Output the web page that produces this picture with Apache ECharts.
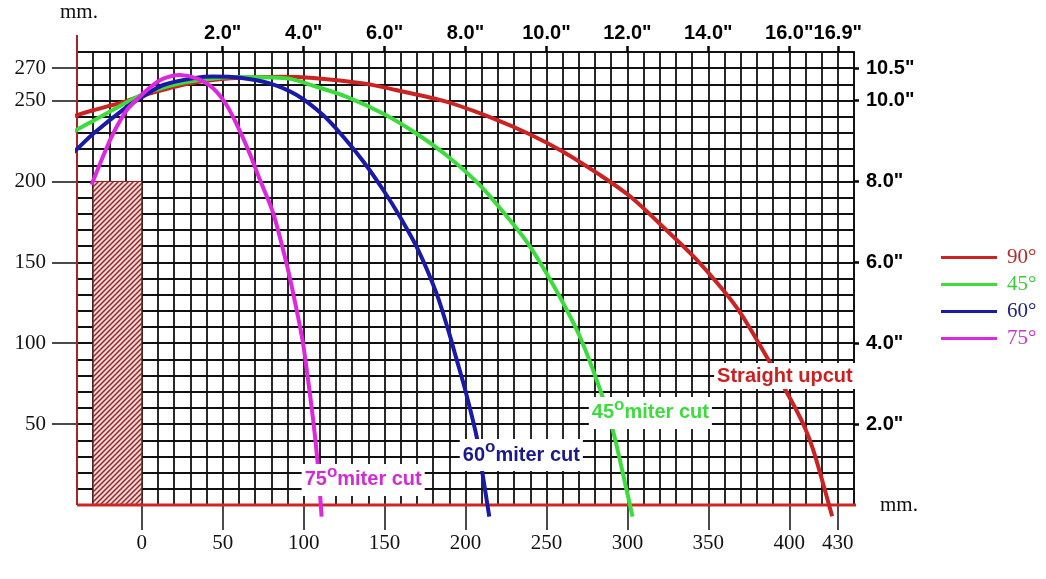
<!DOCTYPE html>
<html>
<head>
<meta charset="utf-8">
<script src="https://cdn.jsdelivr.net/npm/echarts@6/dist/echarts.min.js"></script>
<style>
html,body{margin:0;padding:0;background:#fff;}
#chart{width:1046px;height:579px;}
</style>
</head>
<body>
<div id="chart"></div>
<script>
// ---- data (mm) ----
const seriesNames = ['90°', '45°', '60°', '75°'];

const cut90 = [[-55,236],[-40,241],[-30,244],[-10,249.5],[0,253],[30,260.6],[55,263.7],[85,264.7],[106,264],[137,260.6],[157,256.5],[188,249.3],[217,239],[240,229],[260,218.5],[283,204],[302,190.5],[324,170],[341,153.5],[359,133],[370,118.5],[380,102],[389,86.5],[398,70.5],[405,57.5],[410,47],[414.5,35],[419,20],[426.5,-7]];

const cut45 = [[-50.5,226.6],[-40,232],[-30,237.5],[-10,248.5],[0,253.5],[15,258.5],[30,261.8],[58.6,264.5],[89.5,263.7],[108,258.5],[126.6,252.3],[149,242],[168,230.7],[188,216.3],[209,197.5],[229.5,173.5],[240,159.6],[250,143.2],[260.4,124.7],[270.7,104],[281,77.3],[290.2,49.4],[299.5,9.3],[303.2,-7.2]];

const cut60 = [[-49.5,211.2],[-40,220],[-30,229.5],[-10,245.5],[0,252],[13.3,259.6],[34,264.1],[44,264.8],[60.7,264.1],[79,260.6],[95.7,253.4],[112,241],[124.5,227.6],[137,212.2],[149.2,194.7],[159.5,178.2],[170.8,157.6],[182.1,130.8],[189.3,108.2],[194.5,90],[199.6,72],[206.9,42.2],[210,22.7],[214.7,-7.2]];

const cut75 = [[-31,198],[-24,215.3],[-17.6,229.7],[-9.3,244],[0,253.5],[5,258],[13.3,263.5],[23.6,265.8],[33.9,263.7],[44.2,257.5],[52.4,247.2],[60.7,231],[66.8,217],[73,201],[81,181],[89.4,149.4],[94,128.7],[99.3,102],[102.5,79.3],[105.9,52.5],[108.5,27.8],[110.2,6],[111.1,-7.2]];

// axis ticks
const mmTicksX = [0,50,100,150,200,250,300,350,400,430];
const inchTicksX = [50,100,150,200,250,300,350,400,430];
const inchLabelsX = ['2.0"','4.0"','6.0"','8.0"','10.0"','12.0"','14.0"','16.0"','16.9"'];
const mmTicksY = [50,100,150,200,250,270];
const inchLabelsY = ['2.0"','4.0"','6.0"','8.0"','10.0"','10.5"'];
const unitLabel = 'mm.';

// blocked zone (hatched), mm
const blockedX = [-30, 0];
const blockedY = [0, 200];

// curve annotations
const cutLabelDegrees = [null, '45', '60', '75'];
const cutLabelText = ['Straight upcut', 'miter cut', 'miter cut', 'miter cut'];
const cutLabelAt = [[397.3,79.7],[314.2,56.9],[234.5,30.9],[136.8,15.5]];

// ---- styles ----
const lineColors = ['#cc2222', '#3ddc3d', '#1a1aaa', '#dd28dd'];
const legendColors = ['#b82a2a', '#3ccc3c', '#22228c', '#cc33cc'];
const labelColors = ['#cc1f1f', '#3ddc3d', '#1a1a8c', '#d42ad4'];

function makeHatch() {
  const s = 5;
  const c = document.createElement('canvas');
  c.width = s; c.height = s;
  const g = c.getContext('2d');
  g.fillStyle = '#f7d9d9';
  g.fillRect(0, 0, s, s);
  g.strokeStyle = '#952626';
  g.lineWidth = 1.5;
  g.beginPath();
  g.moveTo(-1, s + 1); g.lineTo(s + 1, -1);
  g.moveTo(-1, 1); g.lineTo(1, -1);
  g.moveTo(s - 1, s + 1); g.lineTo(s + 1, s - 1);
  g.stroke();
  return c;
}

const inchMapX = {}; inchTicksX.forEach((v, i) => inchMapX[v] = inchLabelsX[i]);
const inchMapY = {}; mmTicksY.forEach((v, i) => inchMapY[v] = inchLabelsY[i]);

const serif = 'Liberation Serif';
const sans = 'Liberation Sans';

function cutLabel(i) {
  const col = labelColors[i];
  const rich = {
    n: { fontFamily: sans, fontWeight: 'bold', fontSize: 20, color: col, lineHeight: 32 },
    s: { fontFamily: sans, fontWeight: 'bold', fontSize: 17, color: col, lineHeight: 8, verticalAlign: 'top' }
  };
  const fmt = cutLabelDegrees[i] ? '{n|' + cutLabelDegrees[i] + '}{s|o}{n|' + cutLabelText[i] + '}' : '{n|' + cutLabelText[i] + '}';
  if (!cutLabelDegrees[i]) rich.n.lineHeight = 26;
  return {
    symbol: 'circle', symbolSize: 1,
    itemStyle: { color: 'rgba(0,0,0,0)' },
    silent: true,
    z: 10,
    label: {
      show: true, position: 'inside', formatter: fmt,
      backgroundColor: '#fff', padding: [0, 3, 0, 3], rich: rich
    },
    data: [{ coord: cutLabelAt[i] }]
  };
}

const curves = [cut90, cut45, cut60, cut75];

const series = [
  {
    name: 'bottomLine', type: 'line', data: [[-40, 0], [447, 0]],
    symbol: 'none', clip: false, silent: true, z: 3,
    lineStyle: { color: '#d02525', width: 3 },
    markArea: {
      silent: true, z: 1,
      itemStyle: { color: { image: makeHatch(), repeat: 'repeat' }, borderColor: '#8e2323', borderWidth: 1 },
      data: [[{ coord: [blockedX[0], blockedY[0]] }, { coord: [blockedX[1], blockedY[1]] }]]
    }
  },
  {
    name: 'leftLine', type: 'line', data: [[-40, 0], [-40, 290.5]],
    symbol: 'none', clip: false, silent: true, z: 3,
    lineStyle: { color: '#a82424', width: 2 }
  }
];
curves.forEach((d, i) => {
  series.push({
    name: seriesNames[i], type: 'line', data: d,
    symbol: 'none', smooth: 0.3, clip: false, z: 4,
    lineStyle: { color: lineColors[i], width: 4 },
    itemStyle: { color: lineColors[i] },
    markPoint: cutLabel(i)
  });
});

const gridLine = { show: true, lineStyle: { color: '#111', width: 1.8 } };
const hidden = { show: false };

const chart = echarts.init(document.getElementById('chart'), null, { renderer: 'canvas' });
chart.setOption({
  animation: false,
  backgroundColor: '#fff',
  grid: { left: 77, right: 192, top: 52, bottom: 74 },
  legend: {
    orient: 'vertical', left: 936, top: 242,
    itemWidth: 56, itemHeight: 3, itemGap: 6, icon: 'rect',
    data: seriesNames.map((n, i) => ({ name: n, textStyle: { color: legendColors[i] } })),
    textStyle: { fontFamily: serif, fontSize: 21, padding: [0, 0, 0, 5] }
  },
  graphic: [
    { type: 'text', left: 60, top: 2, style: { text: unitLabel, font: '21px "Liberation Serif"', fill: '#111' } }
  ],
  xAxis: [
    {
      type: 'value', position: 'bottom', min: -40, max: 440, interval: 10,
      axisLine: { show: false, onZero: false },
      axisTick: { show: true, customValues: mmTicksX, length: 25, lineStyle: { color: '#111', width: 1.5 } },
      axisLabel: { customValues: mmTicksX, fontFamily: serif, fontSize: 21, color: '#111', margin: 28 },
      splitLine: hidden,
      name: unitLabel, nameLocation: 'end', nameGap: 26,
      nameTextStyle: { fontFamily: serif, fontSize: 21, color: '#111', padding: [0, 0, 4, 0] }
    },
    {
      type: 'value', position: 'top', min: -40, max: 440, interval: 10,
      axisLine: { show: true, onZero: false, lineStyle: { color: '#111', width: 1.8 } },
      axisTick: { show: true, customValues: inchTicksX, length: 6, lineStyle: { color: '#000', width: 2.5 } },
      axisLabel: { customValues: inchTicksX, formatter: v => inchMapX[v] || '', fontFamily: sans, fontWeight: 'bold', fontSize: 20, color: '#000', margin: 9 },
      splitLine: hidden
    },
    {
      type: 'value', position: 'bottom', min: -40, max: 440, interval: 10,
      axisLine: { show: false, onZero: false }, axisTick: hidden, axisLabel: hidden,
      splitLine: gridLine
    }
  ],
  yAxis: [
    {
      type: 'value', position: 'left', min: 0, max: 280, interval: 10,
      axisLine: { show: false, onZero: false },
      axisTick: { show: true, customValues: mmTicksY, length: 25, lineStyle: { color: '#111', width: 1.5 } },
      axisLabel: { customValues: mmTicksY, fontFamily: serif, fontSize: 21, color: '#111', margin: 31 },
      splitLine: hidden
    },
    {
      type: 'value', position: 'right', min: 0, max: 280, interval: 10,
      axisLine: { show: true, onZero: false, lineStyle: { color: '#111', width: 1.8 } },
      axisTick: { show: true, customValues: mmTicksY, length: 5, lineStyle: { color: '#000', width: 2.5 } },
      axisLabel: { customValues: mmTicksY, formatter: v => inchMapY[v] || '', fontFamily: sans, fontWeight: 'bold', fontSize: 20, color: '#000', margin: 12 },
      splitLine: hidden
    },
    {
      type: 'value', position: 'left', min: 0, max: 280, interval: 10,
      axisLine: { show: false, onZero: false }, axisTick: hidden, axisLabel: hidden,
      splitLine: gridLine
    }
  ],
  series: series
});
</script>
</body>
</html>
